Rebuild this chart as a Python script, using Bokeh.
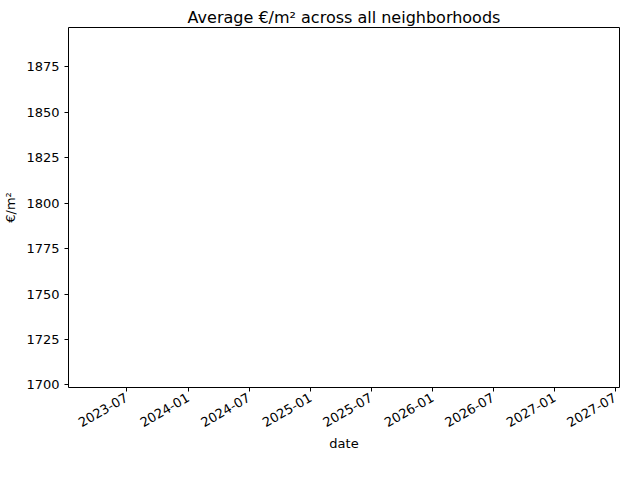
import math
from datetime import datetime
from bokeh.plotting import figure
from bokeh.models import Range1d, MonthsTicker, DatetimeTickFormatter, SingleIntervalTicker
from bokeh.embed import file_html
from bokeh.resources import INLINE

# one observation only -> empty-looking line chart
dates = [datetime(2025, 4, 10)]
avg_price = [1797.6]

p = figure(width=624, height=464, output_backend="svg", toolbar_location=None,
           x_axis_type="datetime",
           x_range=Range1d(datetime(2023, 1, 8), datetime(2027, 7, 14)),
           y_range=Range1d(1698.6, 1896.6),
           min_border_left=59, min_border_right=5, min_border_top=27, min_border_bottom=77)

p.line(dates, avg_price, line_color="#1f77b4", line_width=1.5)

p.title.text = "Average €/m² across all neighborhoods"
p.title.align = "center"
p.title.text_font = "DejaVu Sans"
p.title.text_font_size = "16px"
p.title.text_font_style = "normal"
p.title.text_color = "black"
p.title.standoff = 2

p.xaxis.axis_label = "date"
p.yaxis.axis_label = "€/m²"
p.xaxis.ticker = MonthsTicker(months=[0, 6])
p.xaxis.formatter = DatetimeTickFormatter(months="%Y-%m", years="%Y-%m")
p.xaxis.major_label_orientation = math.pi / 6
p.yaxis.ticker = SingleIntervalTicker(interval=25)
for ax in (p.xaxis, p.yaxis):
    ax.axis_label_text_font = "DejaVu Sans"
    ax.axis_label_text_font_size = "13px"
    ax.axis_label_text_font_style = "normal"
    ax.axis_label_text_color = "black"
    ax.major_label_text_font = "DejaVu Sans"
    ax.major_label_text_font_size = "13px"
    ax.major_label_text_color = "black"
    ax.minor_tick_line_color = None
    ax.major_tick_line_color = "black"
    ax.major_tick_in = 0
    ax.major_tick_out = 4
    ax.axis_line_color = None
p.xaxis.axis_label_standoff = 2

p.xgrid.grid_line_color = None
p.ygrid.grid_line_color = None
p.outline_line_color = "black"
p.outline_line_alpha = 1

open("out.html", "w").write(file_html(p, INLINE))
